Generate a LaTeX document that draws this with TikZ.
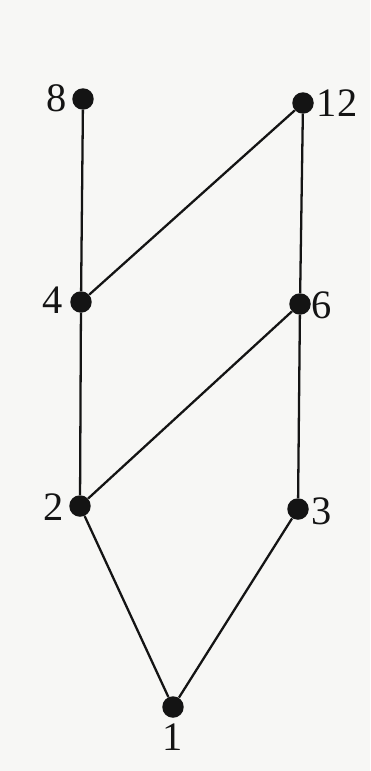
\documentclass[tikz,border=0pt]{standalone}
\usepackage{fontspec}
\setmainfont{Liberation Serif}
\definecolor{bgpaper}{RGB}{247,247,245}
\definecolor{ink}{RGB}{20,20,20}
\begin{document}
\begin{tikzpicture}[x=0.02cm,y=-0.02cm,
  vtx/.style={circle,fill=ink,inner sep=0pt,minimum size=0.43cm},
  lbl/.style={inner sep=0pt,text=ink,font=\fontsize{23}{27}\selectfont},
  edge/.style={draw=ink,line width=1.3pt}]
\fill[bgpaper] (0,0) rectangle (370,771);
\useasboundingbox (0,0) rectangle (370,771);
\node[vtx] (n8) at (83,99) {};
\node[vtx] (n12) at (303,103) {};
\node[vtx] (n4) at (81,302) {};
\node[vtx] (n6) at (300,304) {};
\node[vtx] (n2) at (80,506) {};
\node[vtx] (n3) at (298,509) {};
\node[vtx] (n1) at (173,707) {};
\node[lbl] (l8) at (57,98) {8};
\node[lbl] (l12) at (337,103) {12};
\node[lbl] (l4) at (53,300) {4};
\node[lbl] (l6) at (322,305) {6};
\node[lbl] (l2) at (54,507) {2};
\node[lbl] (l3) at (322,511) {3};
\node[lbl] (l1) at (173,737) {1};
\draw[edge] (n8) -- (n4);
\draw[edge] (n12) -- (n4);
\draw[edge] (n12) -- (n6);
\draw[edge] (n4) -- (n2);
\draw[edge] (n6) -- (n2);
\draw[edge] (n6) -- (n3);
\draw[edge] (n2) -- (n1);
\draw[edge] (n3) -- (n1);
\end{tikzpicture}
\end{document}
